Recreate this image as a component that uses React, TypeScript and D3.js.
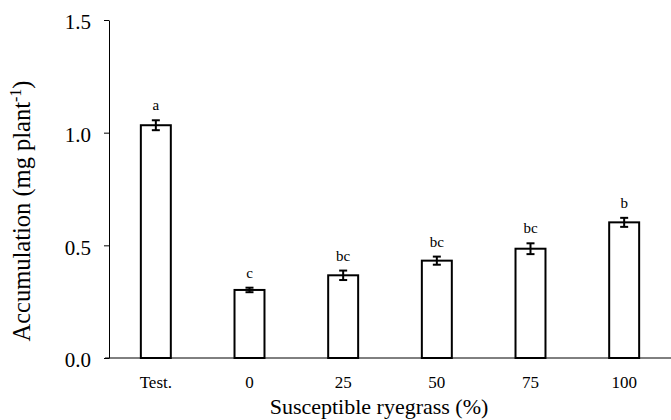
import React, { useRef, useEffect } from "react";
import * as d3 from "d3";

const CATEGORIES = ["Test.", "0", "25", "50", "75", "100"];
const MEANS = [1.033, 0.302, 0.367, 0.432, 0.485, 0.602];
const ERRORS = [0.022, 0.01, 0.021, 0.018, 0.024, 0.02];
const LETTERS = ["a", "c", "bc", "bc", "bc", "b"];
const Y_TICKS = [0, 0.5, 1.0, 1.5];

const FONT = "'Liberation Serif', 'Times New Roman', serif";

export default function App() {
  const svgRef = useRef<SVGSVGElement>(null);

  useEffect(() => {
    const width = 671;
    const height = 420;
    const margin = { top: 20, right: 0, bottom: 62, left: 109 };

    const svg = d3.select(svgRef.current).attr("width", width).attr("height", height);
    svg.selectAll("*").remove();

    const x = d3
      .scaleBand()
      .domain(CATEGORIES)
      .range([margin.left, width - margin.right])
      .paddingInner(0.68)
      .paddingOuter(0.34);

    const y = d3
      .scaleLinear()
      .domain([0, 1.5])
      .range([height - margin.bottom, margin.top]);

    const y0 = y(0);

    // y axis
    const yAxis = svg
      .append("g")
      .attr("transform", `translate(${margin.left},0)`)
      .call(
        d3
          .axisLeft(y)
          .tickValues(Y_TICKS)
          .tickFormat(d3.format(".1f"))
          .tickSize(5)
          .tickSizeOuter(0)
      );
    yAxis.select(".domain").attr("stroke", "#000").attr("stroke-width", 1);
    yAxis.selectAll("line").attr("stroke", "#000");
    yAxis
      .selectAll("text")
      .attr("x", -18)
      .attr("dy", "0.42em")
      .style("font-family", FONT)
      .style("font-size", "21px")
      .attr("fill", "#000");

    // x axis baseline
    svg
      .append("line")
      .attr("x1", margin.left - 4)
      .attr("x2", width)
      .attr("y1", y0)
      .attr("y2", y0)
      .attr("stroke", "#000")
      .attr("stroke-width", 1);

    // x tick labels
    svg
      .append("g")
      .selectAll("text")
      .data(CATEGORIES)
      .enter()
      .append("text")
      .attr("x", (d) => x(d)! + x.bandwidth() / 2)
      .attr("y", y0 + 30)
      .attr("text-anchor", "middle")
      .style("font-family", FONT)
      .style("font-size", "17px")
      .text((d) => d);

    const data = CATEGORIES.map((c, i) => ({ c, v: MEANS[i], e: ERRORS[i], l: LETTERS[i] }));

    // bars
    svg
      .append("g")
      .selectAll("rect")
      .data(data)
      .enter()
      .append("rect")
      .attr("x", (d) => x(d.c)!)
      .attr("y", (d) => y(d.v))
      .attr("width", x.bandwidth())
      .attr("height", (d) => y0 - y(d.v))
      .attr("fill", "#fff")
      .attr("stroke", "#000")
      .attr("stroke-width", 2);

    // error bars
    const eb = svg.append("g").attr("stroke", "#000").attr("stroke-width", 2);
    data.forEach((d) => {
      const cx = x(d.c)! + x.bandwidth() / 2;
      eb.append("line")
        .attr("x1", cx).attr("x2", cx)
        .attr("y1", y(d.v + d.e)).attr("y2", y(d.v - d.e));
      eb.append("line")
        .attr("x1", cx - 4).attr("x2", cx + 4)
        .attr("y1", y(d.v + d.e)).attr("y2", y(d.v + d.e));
      eb.append("line")
        .attr("x1", cx - 4).attr("x2", cx + 4)
        .attr("y1", y(d.v - d.e)).attr("y2", y(d.v - d.e));
    });

    // significance letters
    svg
      .append("g")
      .selectAll("text")
      .data(data)
      .enter()
      .append("text")
      .attr("x", (d) => x(d.c)! + x.bandwidth() / 2)
      .attr("y", (d) => y(d.v + d.e) - 10)
      .attr("text-anchor", "middle")
      .style("font-family", FONT)
      .style("font-size", "15px")
      .text((d) => d.l);

    // axis titles
    svg
      .append("text")
      .attr("x", 379)
      .attr("y", 414)
      .attr("text-anchor", "middle")
      .style("font-family", FONT)
      .style("font-size", "22px")
      .text("Susceptible ryegrass (%)");

    const yt = svg
      .append("text")
      .attr("transform", `translate(30, 211) rotate(-90)`)
      .attr("text-anchor", "middle")
      .style("font-family", FONT)
      .style("font-size", "24.5px");
    yt.append("tspan").text("Accumulation (mg plant");
    yt.append("tspan").attr("dy", -9).style("font-size", "16px").text("-1");
    yt.append("tspan").attr("dy", 9).text(")");
  }, []);

  return (
    <div style={{ position: "absolute", left: 0, top: 0 }}>
      <svg ref={svgRef}></svg>
    </div>
  );
}
